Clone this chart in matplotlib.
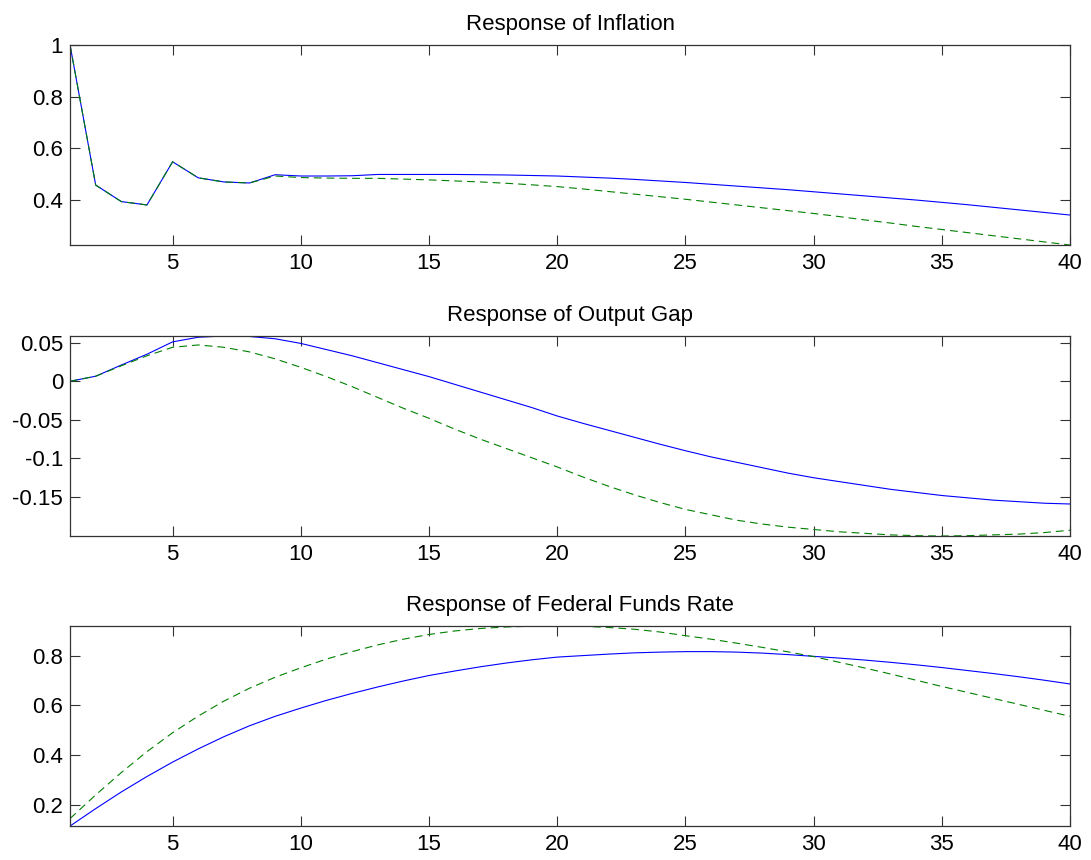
import matplotlib
matplotlib.use("Agg")
from matplotlib import pyplot as plt
import numpy as np

plt.rcParams["font.family"] = ["Liberation Sans", "DejaVu Sans"]

periods = np.arange(1, 41)

# impulse responses, solid = baseline, dashed = alternative rule
infl_base = [1.000, 0.458, 0.394, 0.381, 0.548, 0.486, 0.470, 0.466, 0.498, 0.493,
             0.493, 0.494, 0.499, 0.499, 0.499, 0.499, 0.498, 0.497, 0.495, 0.493,
             0.489, 0.485, 0.480, 0.474, 0.468, 0.461, 0.454, 0.447, 0.440, 0.432,
             0.424, 0.416, 0.408, 0.400, 0.391, 0.382, 0.372, 0.362, 0.352, 0.342]
infl_alt = [1.000, 0.458, 0.394, 0.381, 0.548, 0.486, 0.470, 0.466, 0.493, 0.487,
            0.485, 0.484, 0.484, 0.481, 0.478, 0.474, 0.470, 0.465, 0.459, 0.452,
            0.443, 0.433, 0.423, 0.413, 0.403, 0.392, 0.381, 0.370, 0.359, 0.348,
            0.336, 0.323, 0.311, 0.298, 0.286, 0.274, 0.262, 0.250, 0.238, 0.226]

gap_base = [0.000, 0.0065, 0.021, 0.035, 0.051, 0.057, 0.0586, 0.058, 0.055, 0.049,
            0.041, 0.033, 0.024, 0.015, 0.006, -0.004, -0.014, -0.024, -0.034, -0.045,
            -0.0545, -0.0635, -0.0725, -0.0815, -0.090, -0.098, -0.105, -0.112, -0.119, -0.125,
            -0.130, -0.135, -0.140, -0.144, -0.148, -0.151, -0.154, -0.156, -0.158, -0.159]
gap_alt = [0.000, 0.0065, 0.020, 0.033, 0.044, 0.047, 0.044, 0.038, 0.029, 0.018,
           0.006, -0.007, -0.021, -0.035, -0.048, -0.062, -0.075, -0.087, -0.099, -0.111,
           -0.124, -0.136, -0.147, -0.157, -0.166, -0.173, -0.180, -0.185, -0.189, -0.192,
           -0.195, -0.197, -0.199, -0.200, -0.2005, -0.200, -0.199, -0.198, -0.196, -0.193]

ffr_base = [0.115, 0.185, 0.252, 0.314, 0.372, 0.425, 0.474, 0.518, 0.556, 0.589,
            0.620, 0.648, 0.674, 0.698, 0.720, 0.738, 0.755, 0.770, 0.783, 0.794,
            0.800, 0.806, 0.811, 0.814, 0.816, 0.816, 0.814, 0.810, 0.804, 0.797,
            0.790, 0.782, 0.773, 0.763, 0.752, 0.740, 0.728, 0.715, 0.701, 0.686]
ffr_alt = [0.145, 0.240, 0.330, 0.414, 0.490, 0.557, 0.617, 0.669, 0.713, 0.751,
           0.786, 0.816, 0.843, 0.866, 0.885, 0.899, 0.909, 0.915, 0.918, 0.919,
           0.918, 0.913, 0.906, 0.895, 0.880, 0.866, 0.850, 0.833, 0.815, 0.796,
           0.773, 0.750, 0.726, 0.701, 0.676, 0.652, 0.628, 0.604, 0.580, 0.556]

titles = ["Response of Inflation", "Response of Output Gap", "Response of Federal Funds Rate"]
yticks = [[0.4, 0.6, 0.8, 1.0], [-0.15, -0.1, -0.05, 0, 0.05], [0.2, 0.4, 0.6, 0.8]]
yticklabels = [["0.4", "0.6", "0.8", "1"],
               ["-0.15", "-0.1", "-0.05", "0", "0.05"],
               ["0.2", "0.4", "0.6", "0.8"]]
xticks = [5, 10, 15, 20, 25, 30, 35, 40]

series = [(infl_base, infl_alt), (gap_base, gap_alt), (ffr_base, ffr_alt)]
bottoms = [0.7151, 0.3767, 0.0395]

fig = plt.figure(figsize=(10.91, 8.6), dpi=100)

for i in range(3):
    ax = fig.add_axes([0.0642, bottoms[i], 0.9166, 0.2326])
    base, alt = series[i]
    ax.plot(periods, base, color="#0000ff", lw=0.8)
    ax.plot(periods, alt, color="#008000", lw=0.8, ls=(0, (7, 4.5)))
    lo = min(min(base), min(alt))
    hi = max(max(base), max(alt))
    ax.set_xlim(1, 40)
    ax.set_ylim(lo, hi)
    ax.set_xticks(xticks)
    ax.set_xticklabels([str(t) for t in xticks])
    ax.set_yticks(yticks[i])
    ax.set_yticklabels(yticklabels[i])
    ax.tick_params(direction="in", top=True, right=True, length=7, width=0.8,
                   color="#333333", labelsize=16)
    ax.tick_params(axis="x", pad=6)
    ax.tick_params(axis="y", pad=5)
    for s in ax.spines.values():
        s.set_color("#333333")
        s.set_linewidth(0.9)
    ax.set_title(titles[i], fontsize=16, pad=11)

fig.savefig("out.png", dpi=100)
